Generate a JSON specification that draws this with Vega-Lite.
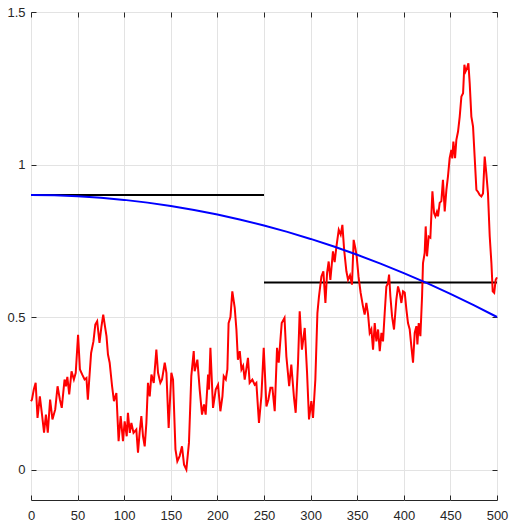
{
  "$schema": "https://vega.github.io/schema/vega-lite/v6.json",
  "width": 466,
  "height": 488,
  "autosize": {"type": "none"},
  "padding": {"left": 31, "top": 12, "right": 12, "bottom": 22},
  "background": "white",
  "config": {
    "view": {"stroke": "#262626", "strokeWidth": 1},
    "axis": {
      "labelFont": "Liberation Sans",
      "labelFontSize": 13,
      "labelColor": "#262626",
      "labelFlush": false,
      "labelOverlap": false,
      "domainColor": "#262626",
      "tickColor": "#262626",
      "gridColor": "#e3e3e3",
      "gridWidth": 1,
      "title": null
    }
  },
  "datasets": {
    "red": [
      {"x": 0, "y": 0.224}, {"x": 1, "y": 0.229}, {"x": 3, "y": 0.262}, {"x": 5, "y": 0.284}, {"x": 7, "y": 0.169},
      {"x": 9.5, "y": 0.24}, {"x": 12, "y": 0.175}, {"x": 14, "y": 0.121}, {"x": 16, "y": 0.18}, {"x": 18, "y": 0.121},
      {"x": 20.5, "y": 0.229}, {"x": 23, "y": 0.164}, {"x": 26, "y": 0.197}, {"x": 28.5, "y": 0.273}, {"x": 31, "y": 0.229},
      {"x": 33, "y": 0.202}, {"x": 36, "y": 0.295}, {"x": 37.5, "y": 0.273}, {"x": 39, "y": 0.304}, {"x": 41, "y": 0.246},
      {"x": 43.5, "y": 0.322}, {"x": 46, "y": 0.295}, {"x": 48, "y": 0.317}, {"x": 50.5, "y": 0.442}, {"x": 52.5, "y": 0.328},
      {"x": 55, "y": 0.311}, {"x": 57.5, "y": 0.295}, {"x": 59.5, "y": 0.3}, {"x": 61, "y": 0.229}, {"x": 62.5, "y": 0.295},
      {"x": 64.5, "y": 0.382}, {"x": 67, "y": 0.42}, {"x": 69, "y": 0.475}, {"x": 71, "y": 0.486}, {"x": 73.5, "y": 0.415},
      {"x": 75.5, "y": 0.467}, {"x": 77.5, "y": 0.508}, {"x": 79.5, "y": 0.467}, {"x": 81, "y": 0.437}, {"x": 82.6, "y": 0.377},
      {"x": 84.4, "y": 0.35}, {"x": 87, "y": 0.273}, {"x": 89, "y": 0.224}, {"x": 91.6, "y": 0.251}, {"x": 94, "y": 0.093},
      {"x": 96.2, "y": 0.175}, {"x": 98.7, "y": 0.093}, {"x": 100.5, "y": 0.158}, {"x": 102.7, "y": 0.109}, {"x": 104, "y": 0.186},
      {"x": 106, "y": 0.12}, {"x": 107.7, "y": 0.153}, {"x": 110, "y": 0.12}, {"x": 113, "y": 0.131}, {"x": 114.8, "y": 0.055},
      {"x": 116.5, "y": 0.12}, {"x": 118.4, "y": 0.175}, {"x": 120.2, "y": 0.109}, {"x": 122, "y": 0.076}, {"x": 123.8, "y": 0.153},
      {"x": 125.5, "y": 0.284}, {"x": 127.4, "y": 0.24}, {"x": 129.2, "y": 0.311}, {"x": 131.7, "y": 0.284}, {"x": 134.5, "y": 0.393},
      {"x": 136.3, "y": 0.317}, {"x": 138.8, "y": 0.284}, {"x": 140.6, "y": 0.295}, {"x": 143.5, "y": 0.35}, {"x": 145.3, "y": 0.317},
      {"x": 147.7, "y": 0.136}, {"x": 150.6, "y": 0.317}, {"x": 152.4, "y": 0.295}, {"x": 155, "y": 0.066}, {"x": 157, "y": 0.027},
      {"x": 159.5, "y": 0.044}, {"x": 162, "y": 0.076}, {"x": 164.2, "y": 0.016}, {"x": 166.7, "y": 0.0}, {"x": 169.5, "y": 0.088},
      {"x": 172, "y": 0.306}, {"x": 174.6, "y": 0.388}, {"x": 175.6, "y": 0.322}, {"x": 178.5, "y": 0.36}, {"x": 181, "y": 0.262},
      {"x": 183.5, "y": 0.18}, {"x": 185.6, "y": 0.213}, {"x": 187.4, "y": 0.18}, {"x": 190, "y": 0.311}, {"x": 191, "y": 0.262},
      {"x": 192.5, "y": 0.399}, {"x": 195.3, "y": 0.202}, {"x": 198.2, "y": 0.262}, {"x": 200.7, "y": 0.278}, {"x": 203.2, "y": 0.191},
      {"x": 205.4, "y": 0.24}, {"x": 206.8, "y": 0.306}, {"x": 209, "y": 0.295}, {"x": 210.7, "y": 0.328}, {"x": 212, "y": 0.48},
      {"x": 214, "y": 0.5}, {"x": 216, "y": 0.584}, {"x": 218.6, "y": 0.53}, {"x": 220.4, "y": 0.459}, {"x": 222, "y": 0.36},
      {"x": 224, "y": 0.388}, {"x": 225.8, "y": 0.328}, {"x": 227.6, "y": 0.34}, {"x": 229.3, "y": 0.295}, {"x": 231, "y": 0.328},
      {"x": 232.8, "y": 0.366}, {"x": 234.6, "y": 0.284}, {"x": 237.5, "y": 0.295}, {"x": 240, "y": 0.278}, {"x": 241.8, "y": 0.284},
      {"x": 244.6, "y": 0.153}, {"x": 247.2, "y": 0.24}, {"x": 249.7, "y": 0.399}, {"x": 252.6, "y": 0.207}, {"x": 254.7, "y": 0.229},
      {"x": 256.9, "y": 0.268}, {"x": 259, "y": 0.268}, {"x": 261.5, "y": 0.191}, {"x": 264, "y": 0.399}, {"x": 265.8, "y": 0.35},
      {"x": 267, "y": 0.4}, {"x": 269, "y": 0.48}, {"x": 272, "y": 0.497}, {"x": 274, "y": 0.371}, {"x": 277, "y": 0.273},
      {"x": 279.3, "y": 0.344}, {"x": 282.2, "y": 0.235}, {"x": 284, "y": 0.186}, {"x": 286.5, "y": 0.35}, {"x": 288.3, "y": 0.519},
      {"x": 290.7, "y": 0.393}, {"x": 293.7, "y": 0.464}, {"x": 296.2, "y": 0.317}, {"x": 298.3, "y": 0.164}, {"x": 300.8, "y": 0.224},
      {"x": 302.6, "y": 0.169}, {"x": 305.1, "y": 0.295}, {"x": 307.3, "y": 0.513}, {"x": 309, "y": 0.568}, {"x": 311.6, "y": 0.633},
      {"x": 313.7, "y": 0.65}, {"x": 315.9, "y": 0.546}, {"x": 317.7, "y": 0.645}, {"x": 319.4, "y": 0.682}, {"x": 321.2, "y": 0.622},
      {"x": 324, "y": 0.715}, {"x": 325.8, "y": 0.68}, {"x": 327.7, "y": 0.731}, {"x": 330.2, "y": 0.786}, {"x": 332.3, "y": 0.77},
      {"x": 334.1, "y": 0.802}, {"x": 336, "y": 0.72}, {"x": 338.4, "y": 0.65}, {"x": 340.2, "y": 0.622}, {"x": 342.3, "y": 0.637},
      {"x": 344.4, "y": 0.606}, {"x": 346.2, "y": 0.753}, {"x": 348, "y": 0.726}, {"x": 349.4, "y": 0.7}, {"x": 351.4, "y": 0.633},
      {"x": 353.7, "y": 0.579}, {"x": 356.2, "y": 0.535}, {"x": 358, "y": 0.508}, {"x": 359.8, "y": 0.546}, {"x": 361.6, "y": 0.51},
      {"x": 363.4, "y": 0.448}, {"x": 365.2, "y": 0.46}, {"x": 367, "y": 0.393}, {"x": 368.8, "y": 0.48}, {"x": 370.6, "y": 0.42},
      {"x": 372.4, "y": 0.459}, {"x": 374.2, "y": 0.388}, {"x": 376, "y": 0.448}, {"x": 377.7, "y": 0.42}, {"x": 379.5, "y": 0.513},
      {"x": 381.3, "y": 0.6}, {"x": 383, "y": 0.611}, {"x": 384.2, "y": 0.639}, {"x": 385.6, "y": 0.568}, {"x": 387.4, "y": 0.502},
      {"x": 389.5, "y": 0.459}, {"x": 392, "y": 0.557}, {"x": 393.8, "y": 0.6}, {"x": 395.6, "y": 0.58}, {"x": 397.4, "y": 0.546},
      {"x": 399.2, "y": 0.584}, {"x": 401, "y": 0.58}, {"x": 402.8, "y": 0.524}, {"x": 404.5, "y": 0.48}, {"x": 406.3, "y": 0.46},
      {"x": 408.1, "y": 0.404}, {"x": 409.9, "y": 0.35}, {"x": 411.7, "y": 0.448}, {"x": 413.5, "y": 0.47}, {"x": 414.6, "y": 0.41},
      {"x": 416, "y": 0.48}, {"x": 417.8, "y": 0.437}, {"x": 419.6, "y": 0.568}, {"x": 420.6, "y": 0.677}, {"x": 422.4, "y": 0.71},
      {"x": 423.5, "y": 0.797}, {"x": 424.9, "y": 0.699}, {"x": 426.7, "y": 0.764}, {"x": 428.5, "y": 0.76}, {"x": 430.7, "y": 0.912},
      {"x": 432.5, "y": 0.841}, {"x": 433.9, "y": 0.83}, {"x": 435.5, "y": 0.845}, {"x": 436.7, "y": 0.83}, {"x": 438.5, "y": 0.874},
      {"x": 440.3, "y": 0.88}, {"x": 442, "y": 0.95}, {"x": 443.9, "y": 0.846}, {"x": 445.7, "y": 0.917}, {"x": 447.4, "y": 0.961},
      {"x": 449.2, "y": 1.021}, {"x": 451, "y": 1.048}, {"x": 452, "y": 1.02}, {"x": 453.2, "y": 1.075}, {"x": 455, "y": 1.021},
      {"x": 456.4, "y": 1.081}, {"x": 458.2, "y": 1.108}, {"x": 460, "y": 1.157}, {"x": 461.8, "y": 1.223}, {"x": 463.6, "y": 1.234},
      {"x": 465, "y": 1.327}, {"x": 466.3, "y": 1.305}, {"x": 467.8, "y": 1.315}, {"x": 469.3, "y": 1.332}, {"x": 470.7, "y": 1.267},
      {"x": 472.5, "y": 1.157}, {"x": 474.3, "y": 1.124}, {"x": 476, "y": 1.026}, {"x": 477.9, "y": 0.917}, {"x": 479.7, "y": 0.91},
      {"x": 481.4, "y": 0.9}, {"x": 483.2, "y": 0.895}, {"x": 485, "y": 0.905}, {"x": 486.8, "y": 1.026}, {"x": 488.5, "y": 0.972},
      {"x": 490.3, "y": 0.906}, {"x": 492.2, "y": 0.764}, {"x": 494, "y": 0.677}, {"x": 495.4, "y": 0.584}, {"x": 497, "y": 0.579},
      {"x": 498.6, "y": 0.622}, {"x": 500, "y": 0.63}
    ],
    "blue": [
      {"x": 0, "y": 0.9}, {"x": 25, "y": 0.899}, {"x": 50, "y": 0.896}, {"x": 75, "y": 0.891}, {"x": 100, "y": 0.884},
      {"x": 125, "y": 0.875}, {"x": 150, "y": 0.864}, {"x": 175, "y": 0.851}, {"x": 200, "y": 0.836}, {"x": 225, "y": 0.819},
      {"x": 250, "y": 0.8}, {"x": 275, "y": 0.779}, {"x": 300, "y": 0.756}, {"x": 325, "y": 0.731}, {"x": 350, "y": 0.704},
      {"x": 375, "y": 0.675}, {"x": 400, "y": 0.644}, {"x": 425, "y": 0.611}, {"x": 450, "y": 0.576}, {"x": 475, "y": 0.539},
      {"x": 500, "y": 0.5}
    ],
    "black": [
      {"x": 0, "y": 0.9, "seg": "a"}, {"x": 250, "y": 0.9, "seg": "a"},
      {"x": 250, "y": 0.613, "seg": "b"}, {"x": 500, "y": 0.613, "seg": "b"}
    ]
  },
  "layer": [
    {
      "data": {"name": "black"},
      "mark": {"type": "line", "color": "#000000", "strokeWidth": 2},
      "encoding": {
        "x": {"field": "x", "type": "quantitative",
              "scale": {"domain": [0, 500], "nice": false, "zero": false},
              "axis": {"orient": "bottom", "values": [0, 50, 100, 150, 200, 250, 300, 350, 400, 450, 500],
                       "grid": true, "tickSize": -5, "labelPadding": 14, "domain": false}},
        "y": {"field": "y", "type": "quantitative",
              "scale": {"domain": [-0.1, 1.5], "nice": false, "zero": false},
              "axis": {"orient": "left", "values": [0, 0.5, 1, 1.5], "format": "~g", "grid": true, "tickSize": -5,
                       "labelPadding": 11, "domain": false}},
        "detail": {"field": "seg"}
      }
    },
    {
      "data": {"name": "red"},
      "mark": {"type": "line", "color": "#ff0000", "strokeWidth": 2},
      "encoding": {
        "x": {"field": "x", "type": "quantitative", "axis": null},
        "y": {"field": "y", "type": "quantitative", "axis": null}
      }
    },
    {
      "data": {"name": "blue"},
      "mark": {"type": "line", "color": "#0000ff", "strokeWidth": 2},
      "encoding": {
        "x": {"field": "x", "type": "quantitative",
              "axis": {"orient": "top", "values": [0, 50, 100, 150, 200, 250, 300, 350, 400, 450, 500],
                       "grid": false, "tickSize": -5, "labels": false, "domain": false}},
        "y": {"field": "y", "type": "quantitative",
              "axis": {"orient": "right", "values": [0, 0.5, 1, 1.5], "grid": false, "tickSize": -5,
                       "labels": false, "domain": false}}
      }
    }
  ],
  "resolve": {"axis": {"x": "independent", "y": "independent"}}
}
